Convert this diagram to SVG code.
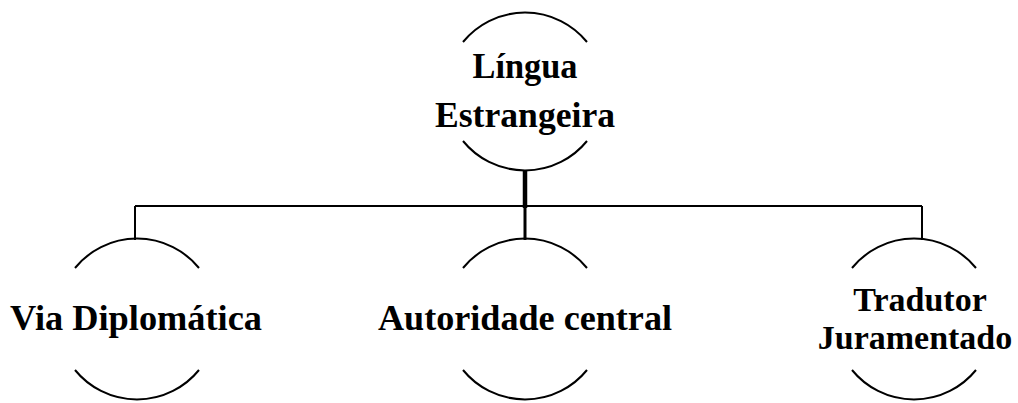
<svg xmlns="http://www.w3.org/2000/svg" width="1018" height="403" viewBox="0 0 1018 403">
<style>
.arc{fill:none;stroke:#000;stroke-width:2}
.ln{fill:none;stroke:#000;stroke-width:2}
.t{font-family:"Liberation Serif","DejaVu Serif",serif;font-weight:bold;font-size:36px;fill:#000;text-anchor:middle}
.s{font-size:34px}
</style>
<rect width="1018" height="403" fill="#fff"/>
<g id="connectors">
<path class="ln" d="M135 206 H922"/>
<path class="ln" d="M135 206 V240"/>
<path class="ln" d="M922 206 V240"/>
<path class="ln" d="M525 206 V240" style="stroke-width:3"/>
<path class="ln" d="M525 171 V208" style="stroke-width:4.5"/>
</g>
<g id="node-lingua">
<path class="arc" d="M463 42 A80 80 0 0 1 587 42"/>
<path class="arc" d="M463 141 A80 80 0 0 0 587 141"/>
<text class="t" x="525" y="78" textLength="105" lengthAdjust="spacingAndGlyphs">Língua</text>
<text class="t" x="525" y="127" textLength="180" lengthAdjust="spacingAndGlyphs">Estrangeira</text>
</g>
<g id="node-via">
<path class="arc" d="M75 268 A80 80 0 0 1 199 268"/>
<path class="arc" d="M75 370 A80 80 0 0 0 199 370"/>
<text class="t" x="136" y="330" textLength="252" lengthAdjust="spacingAndGlyphs">Via Diplomática</text>
</g>
<g id="node-autoridade">
<path class="arc" d="M463 268 A80 80 0 0 1 587 268"/>
<path class="arc" d="M463 370 A80 80 0 0 0 587 370"/>
<text class="t" x="525" y="330" textLength="294" lengthAdjust="spacingAndGlyphs">Autoridade central</text>
</g>
<g id="node-tradutor">
<path class="arc" d="M852 268 A80 80 0 0 1 976 268"/>
<path class="arc" d="M852 370 A80 80 0 0 0 976 370"/>
<text class="t s" x="920" y="311">Tradutor</text>
<text class="t s" x="915" y="349">Juramentado</text>
</g>
</svg>
